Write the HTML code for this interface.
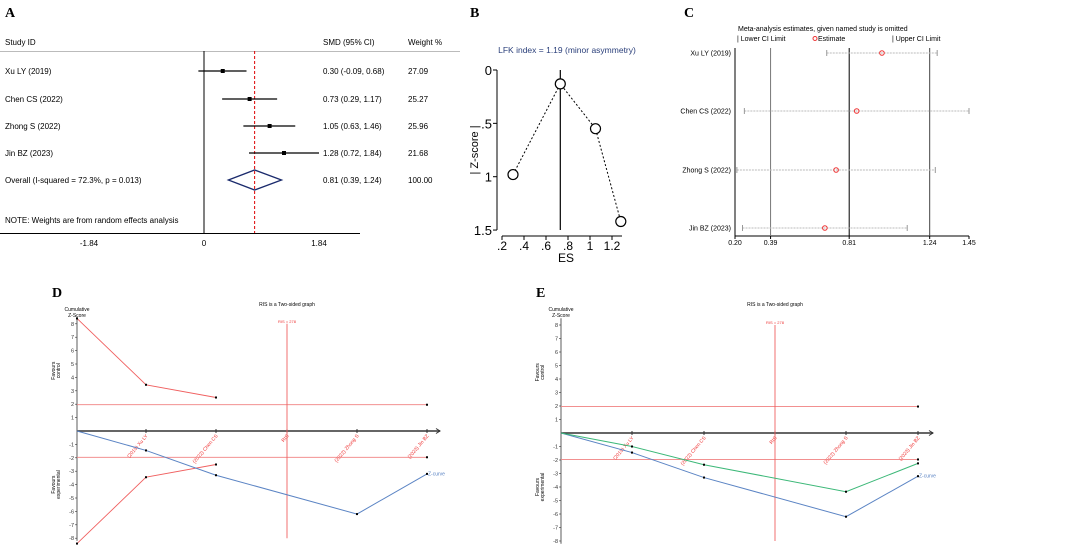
<!DOCTYPE html>
<html><head><meta charset="utf-8"><style>
html,body{margin:0;padding:0;background:#fff;}
svg{display:block;font-family:"Liberation Sans",Arial,sans-serif;}
</style></head><body>
<svg id="fig" width="1065" height="545" viewBox="0 0 1065 545" xmlns="http://www.w3.org/2000/svg">
<g id="pa"></g>
<g id="pb"></g>
<g id="pc"></g>
<g id="pd"></g>
<g id="pe"></g>
</svg>
<script>
// ---- Panel A data
const studies = ["Xu LY (2019)","Chen CS (2022)","Zhong S (2022)","Jin BZ (2023)"];
const smd = [0.30,0.73,1.05,1.28];
const lo = [-0.09,0.29,0.63,0.72];
const hi = [0.68,1.17,1.46,1.84];
const weights = ["27.09","25.27","25.96","21.68"];
const overall = [0.81,0.39,1.24];
const aTicks = [-1.84,0,1.84];
// ---- Panel B data
const lfkEs = [0.30,0.73,1.05,1.28];
const lfkZ = [0.98,0.13,0.55,1.42];
const bXTicks = [0.2,0.4,0.6,0.8,1.0,1.2];
const bXLabels = [".2",".4",".6",".8","1","1.2"];
const bYTicks = [0,0.5,1,1.5];
const bYLabels = ["0",".5","1","1.5"];
// ---- Panel C data
const cEst = [0.985,0.85,0.74,0.68];
const cLo = [0.69,0.25,0.21,0.24];
const cHi = [1.28,1.45,1.27,1.12];
const cTicks = [0.20,0.39,0.81,1.24,1.45];
// ---- TSA data
const tsaLabels = ["(2019) Xu LY","(2022) Chen CS","RIS","(2022) Zhong S","(2023) Jin BZ"];
const zCurve = [0,-1.45,-3.3,-6.2,-3.2];
const zCurve2 = [0,-1.0,-2.35,-4.35,-2.25];
const boundUpper = [8.4,3.45,2.5];
const tsaYTicks = [-8,-7,-6,-5,-4,-3,-2,-1,1,2,3,4,5,6,7,8];

const NS="http://www.w3.org/2000/svg";
function el(parent,tag,attrs,text){const e=document.createElementNS(NS,tag);for(const k in attrs)e.setAttribute(k,attrs[k]);if(text!==undefined)e.textContent=text;parent.appendChild(e);return e;}

// ===== Panel A
(function(){
const g=document.getElementById('pa');
const ax=v=>204+v*62.5;
const rowY=[71,99,126,153];
let t=el(g,'text',{x:5,y:17,'font-family':'Liberation Serif','font-weight':'bold','font-size':14},'A');

t=el(g,'text',{x:5,y:45,'font-size':8},'Study ID');

t=el(g,'text',{x:323,y:45,'font-size':8},'SMD (95% CI)');

t=el(g,'text',{x:408,y:45,'font-size':8},'Weight  %');

let l=el(g,'line',{x1:0,x2:460,y1:51.5,y2:51.5,stroke:'#bbb','stroke-width':1});

l=el(g,'line',{x1:ax(0),x2:ax(0),y1:51,y2:233,stroke:'#000','stroke-width':1});

l=el(g,'line',{x1:ax(overall[0]),x2:ax(overall[0]),y1:51,y2:233,stroke:'#d00','stroke-width':1,'stroke-dasharray':'3,2'});

l=el(g,'line',{x1:0,x2:360,y1:233.5,y2:233.5,stroke:'#000','stroke-width':1});

aTicks.forEach(v=>{const tk=el(g,'text',{x:ax(v),y:246,'font-size':8,'text-anchor':'middle'},v.toFixed(2).replace('0.00','0'));
});
const xmax=ax(1.84)+4;
studies.forEach((s,i)=>{
 const y=rowY[i];
 let a=el(g,'text',{x:5,y:y+3,'font-size':8},s);
 const x2=Math.min(ax(hi[i]),xmax);
 a=el(g,'line',{x1:ax(lo[i]),x2:x2,y1:y,y2:y,stroke:'#000','stroke-width':1.3});
 if(ax(hi[i])>xmax){a=el(g,'path',{d:`M${x2-6},${y-6} L${x2},${y} L${x2-6},${y+6}`,fill:'none',stroke:'#000','stroke-width':1.3});}
 a=el(g,'rect',{x:ax(smd[i])-2,y:y-2,width:4,height:4,fill:'#000'});
 a=el(g,'text',{x:323,y:y+3,'font-size':8},`${smd[i].toFixed(2)} (${lo[i].toFixed(2)}, ${hi[i].toFixed(2)})`);
 a=el(g,'text',{x:408,y:y+3,'font-size':8},weights[i]);
});
const y=180;
let d=el(g,'path',{d:`M${ax(overall[1])},${y} L${ax(overall[0])},${y-10} L${ax(overall[2])},${y} L${ax(overall[0])},${y+10} Z`,fill:'none',stroke:'#1a2a6c','stroke-width':1.3});

d=el(g,'text',{x:5,y:y+3,'font-size':8},'Overall  (I-squared = 72.3%, p = 0.013)');
d=el(g,'text',{x:323,y:y+3,'font-size':8},`${overall[0].toFixed(2)} (${overall[1].toFixed(2)}, ${overall[2].toFixed(2)})`);
d=el(g,'text',{x:408,y:y+3,'font-size':8},'100.00');
d=el(g,'text',{x:5,y:223,'font-size':8},'NOTE: Weights are from random effects analysis');
})();

// ===== Panel B
(function(){
const g=document.getElementById('pb');
const bx=v=>502+(v-0.2)*110, by=v=>70+v*106.7;
let t=el(g,'text',{x:470,y:17,'font-family':'Liberation Serif','font-weight':'bold','font-size':14},'B');
t=el(g,'text',{x:567,y:53,'font-size':8.5,fill:'#2a3f7a','text-anchor':'middle'},'LFK index = 1.19 (minor asymmetry)');
let l=el(g,'line',{x1:497,x2:497,y1:by(0),y2:by(1.5),stroke:'#000'});
l=el(g,'line',{x1:bx(0.2),x2:bx(1.2)+10,y1:236,y2:236,stroke:'#000'});
bYTicks.forEach((v,i)=>{let a=el(g,'line',{x1:493,x2:497,y1:by(v),y2:by(v),stroke:'#000'});
a=el(g,'text',{x:492,y:by(v)+5,'font-size':13,'text-anchor':'end'},bYLabels[i]);});
bXTicks.forEach((v,i)=>{let a=el(g,'line',{x1:bx(v),x2:bx(v),y1:236,y2:240,stroke:'#000'});
a=el(g,'text',{x:bx(v),y:250,'font-size':12,'text-anchor':'middle'},bXLabels[i]);});
t=el(g,'text',{x:566,y:262,'font-size':12,'text-anchor':'middle'},'ES');
t=el(g,'text',{x:0,y:0,'font-size':11,'text-anchor':'middle',transform:`translate(478,150) rotate(-90)`},'| Z-score |');
l=el(g,'line',{x1:bx(0.73),x2:bx(0.73),y1:by(0),y2:by(1.5),stroke:'#000','stroke-width':1.2});
const pts=lfkEs.map((e,i)=>[bx(e),by(lfkZ[i])]);
let p=el(g,'polyline',{points:pts.map(q=>q.join(',')).join(' '),fill:'none',stroke:'#000','stroke-dasharray':'2,2'});
pts.forEach(q=>{const c=el(g,'circle',{cx:q[0],cy:q[1],r:5,fill:'#fff',stroke:'#000','stroke-width':1.2});});
})();

// ===== Panel C
(function(){
const g=document.getElementById('pc');
const cx=v=>735+(v-0.2)*187.2;
const rowY=[53,111,170,228];
let t=el(g,'text',{x:684,y:17,'font-family':'Liberation Serif','font-weight':'bold','font-size':14},'C');
t=el(g,'text',{x:738,y:31,'font-size':7},'Meta-analysis estimates, given named study is omitted');
t=el(g,'text',{x:737,y:41,'font-size':7},'| Lower CI Limit');
let c=el(g,'circle',{cx:815,cy:38.5,r:2,fill:'none',stroke:'#e33'});
t=el(g,'text',{x:818,y:41,'font-size':7},'Estimate');
t=el(g,'text',{x:892,y:41,'font-size':7},'| Upper CI Limit');
let l=el(g,'line',{x1:735,x2:735,y1:48,y2:236,stroke:'#000'});
l=el(g,'line',{x1:735,x2:969,y1:236,y2:236,stroke:'#000'});
[[0.39,'#777'],[0.81,'#000'],[1.24,'#444']].forEach(v=>{const a=el(g,'line',{x1:cx(v[0]),x2:cx(v[0]),y1:48,y2:236,stroke:v[1],'stroke-width':1});});
cTicks.forEach(v=>{let a=el(g,'line',{x1:cx(v),x2:cx(v),y1:236,y2:239,stroke:'#000'});
a=el(g,'text',{x:cx(v),y:245,'font-size':7,'text-anchor':'middle'},v.toFixed(2));});
studies.forEach((s,i)=>{const y=rowY[i];
 let a=el(g,'text',{x:731,y:y+2.5,'font-size':7,'text-anchor':'end'},s);
 a=el(g,'line',{x1:cx(cLo[i]),x2:cx(cHi[i]),y1:y,y2:y,stroke:'#bbb','stroke-dasharray':'2,1'});
 a=el(g,'line',{x1:cx(cLo[i]),x2:cx(cLo[i]),y1:y-3,y2:y+3,stroke:'#999'});
 a=el(g,'line',{x1:cx(cHi[i]),x2:cx(cHi[i]),y1:y-3,y2:y+3,stroke:'#999'});
 a=el(g,'circle',{cx:cx(cEst[i]),cy:y,r:2.3,fill:'none',stroke:'#e33'});
});
})();

// ===== TSA panels
function tsa(id,letter,ox,xEnd,y0,unit,xs,extra){
const g=document.getElementById(id);
const Y=v=>y0-v*unit;
let t=el(g,'text',{x:ox-25,y:297,'font-family':'Liberation Serif','font-weight':'bold','font-size':14},letter);
t=el(g,'text',{x:xs[2],y:306,'font-size':5,'text-anchor':'middle'},'RIS is a Two-sided graph');
t=el(g,'text',{x:ox,y:311,'font-size':5,'text-anchor':'middle'},'Cumulative');
t=el(g,'text',{x:ox,y:317,'font-size':5,'text-anchor':'middle'},'Z-Score');
t=el(g,'text',{x:0,y:0,'font-size':5,'text-anchor':'middle',transform:`translate(${ox-22},${Y(4.5)}) rotate(-90)`},'Favours');
t=el(g,'text',{x:0,y:0,'font-size':5,'text-anchor':'middle',transform:`translate(${ox-17},${Y(4.5)}) rotate(-90)`},'control');
t=el(g,'text',{x:0,y:0,'font-size':5,'text-anchor':'middle',transform:`translate(${ox-22},${Y(-4)}) rotate(-90)`},'Favours');
t=el(g,'text',{x:0,y:0,'font-size':5,'text-anchor':'middle',transform:`translate(${ox-17},${Y(-4)}) rotate(-90)`},'experimental');
let l=el(g,'line',{x1:ox,x2:ox,y1:Y(8.5),y2:Y(-8.2),stroke:'#333','stroke-width':0.8});
l=el(g,'line',{x1:ox,x2:xEnd,y1:y0,y2:y0,stroke:'#333','stroke-width':1.4});
l=el(g,'path',{d:`M${xEnd-4},${y0-2.5} L${xEnd},${y0} L${xEnd-4},${y0+2.5}`,fill:'none',stroke:'#333'});
tsaYTicks.forEach(v=>{let a=el(g,'line',{x1:ox-2,x2:ox,y1:Y(v),y2:Y(v),stroke:'#333','stroke-width':0.6});
a=el(g,'text',{x:ox-3,y:Y(v)+2,'font-size':5.5,'text-anchor':'end',fill:'#333'},String(v));});
xs.forEach((x,i)=>{let a=el(g,'line',{x1:x,x2:x,y1:y0-2,y2:y0+2,stroke:'#333'});
a=el(g,'text',{x:0,y:0,'font-size':5,'text-anchor':'end',fill:'#e33',transform:`translate(${x+2},${y0+5}) rotate(-50)`},tsaLabels[i]);});
[1.96,-1.96].forEach(v=>{let a=el(g,'line',{x1:ox,x2:xs[4],y1:Y(v),y2:Y(v),stroke:'#f08080','stroke-width':0.9});
a=el(g,'rect',{x:xs[4]-1,y:Y(v)-1,width:2,height:2,fill:'#000'});});
l=el(g,'line',{x1:xs[2],x2:xs[2],y1:Y(8),y2:Y(-8),stroke:'#f06060','stroke-width':0.9});
t=el(g,'text',{x:xs[2],y:Y(8)-1,'font-size':4,'text-anchor':'middle',fill:'#e33'},'RIS = 278');
if(extra.boundary){
 [1,-1].forEach(sg=>{const pts=boundUpper.map((v,i)=>[i===0?ox:xs[i-1],Y(sg*v)]);
 let a=el(g,'polyline',{points:pts.map(q=>q.join(',')).join(' '),fill:'none',stroke:'#f06060','stroke-width':0.9});
 pts.forEach(q=>{const r=el(g,'rect',{x:q[0]-1,y:q[1]-1,width:2,height:2,fill:'#000'});});});
}
const curves=[[zCurve,'#5b84c4','z-curve']];
if(extra.green) curves.push([zCurve2,'#3cb878','z-curve-2']);
curves.forEach(c=>{const pts=c[0].map((v,i)=>[i===0?ox:(i<=2?xs[i-1]:xs[i]),Y(v)]);
 let a=el(g,'polyline',{points:pts.map(q=>q.join(',')).join(' '),fill:'none',stroke:c[1],'stroke-width':1});
 pts.slice(1).forEach(q=>{const r=el(g,'rect',{x:q[0]-1,y:q[1]-1,width:2,height:2,fill:'#000'});});});
t=el(g,'text',{x:xs[4]+1,y:Y(zCurve[4])+1.5,'font-size':5,fill:'#5b84c4'},'Z-curve');
}
tsa('pd','D',77,440,431,13.4,[146,216,287,357,427],{boundary:true});
tsa('pe','E',561,933,433,13.5,[632,704,775,846,918],{green:true});
</script>
</body></html>
